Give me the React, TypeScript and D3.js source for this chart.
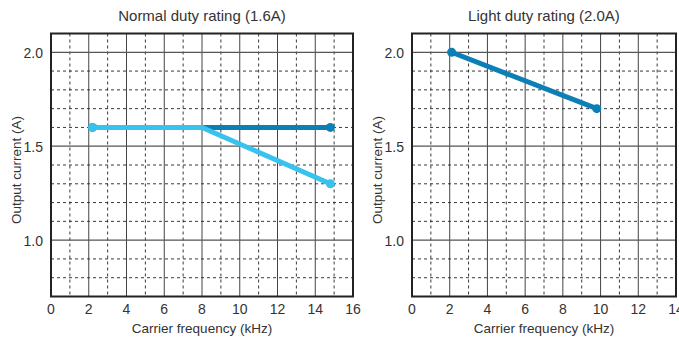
import React from "react";
import * as d3 from "d3";

const leftDarkX = [2.2, 14.8];
const leftDarkY = [1.6, 1.6];
const leftLightX = [2.2, 8, 14.8];
const leftLightY = [1.6, 1.6, 1.3];
const rightX = [2.1, 9.8];
const rightY = [2.0, 1.7];
const yTicks = [1.0, 1.5, 2.0];
const leftXTicks = [0, 2, 4, 6, 8, 10, 12, 14, 16];
const rightXTicks = [0, 2, 4, 6, 8, 10, 12, 14];

const DARK = "#0c7fb6";
const LIGHT = "#38c2ee";
const FONT = "Liberation Sans, Arial, sans-serif";
const TEXT = "#333";

type Series = { xs: number[]; ys: number[]; color: string };

function Panel({ x0, x1, xMax, xTicks, title, series }: { x0: number; x1: number; xMax: number; xTicks: number[]; title: string; series: Series[] }) {
  const top = 33.5, bottom = 296.5;
  const x = d3.scaleLinear().domain([0, xMax]).range([x0, x1]);
  const y = d3.scaleLinear().domain([0.7, 2.1]).range([bottom, top]);
  const vLines = d3.range(1, xMax + (xMax === 14 ? 1 : 0));
  const hLines = d3.range(8, 21).map((v) => v / 10);
  const line = d3.line<[number, number]>().x((d) => x(d[0])).y((d) => y(d[1]));
  return (
    <g>
      <text x={(x0 + x1) / 2} y={21} textAnchor="middle" fontSize={15} fill={TEXT} fontFamily={FONT}>{title}</text>
      {vLines.map((v) => (
        <line key={"v" + v} x1={x(v)} x2={x(v)} y1={top} y2={bottom} stroke={v % 2 === 0 ? "#444" : "#222"} strokeWidth={v % 2 === 0 ? 1 : 0.9} strokeDasharray={v % 2 === 0 ? undefined : "3,3"} />
      ))}
      {hLines.map((v) => {
        const major = Math.abs(v * 2 - Math.round(v * 2)) < 1e-6;
        return <line key={"h" + v} x1={x0} x2={x1} y1={y(v)} y2={y(v)} stroke={major ? "#555" : "#222"} strokeWidth={major ? 1.2 : 0.9} strokeDasharray={major ? undefined : "3,3"} />;
      })}
      <rect x={x0} y={top} width={x1 - x0} height={bottom - top} fill="none" stroke="#222" strokeWidth={2} />
      {series.map((s, i) => {
        const pts = s.xs.map((xv, j) => [xv, s.ys[j]] as [number, number]);
        return (
          <g key={i}>
            <path d={line(pts) || ""} fill="none" stroke={s.color} strokeWidth={5} />
            <circle cx={x(pts[0][0])} cy={y(pts[0][1])} r={4.5} fill={s.color} />
            <circle cx={x(pts[pts.length - 1][0])} cy={y(pts[pts.length - 1][1])} r={4.5} fill={s.color} />
          </g>
        );
      })}
      {xTicks.map((t) => (
        <text key={"xt" + t} x={x(t)} y={314} textAnchor="middle" fontSize={14} fill={TEXT} fontFamily={FONT}>{t}</text>
      ))}
      {yTicks.map((t) => (
        <text key={"yt" + t} x={x0 - 8} y={y(t) + 5.5} textAnchor="end" fontSize={14} fill={TEXT} fontFamily={FONT}>{t.toFixed(1)}</text>
      ))}
      <text x={(x0 + x1) / 2} y={333} textAnchor="middle" fontSize={13.5} fill={TEXT} fontFamily={FONT}>Carrier frequency (kHz)</text>
      <text transform={`translate(${x0 - 30},${170}) rotate(-90)`} textAnchor="middle" fontSize={13.5} fill={TEXT} fontFamily={FONT}>Output current (A)</text>
    </g>
  );
}

export default function App() {
  return (
    <svg width={679} height={339} style={{ position: "absolute", left: 0, top: 0, background: "#fff" }}>
      <rect width={679} height={339} fill="#fff" />
      <Panel x0={51} x1={353} xMax={16} xTicks={leftXTicks} title="Normal duty rating (1.6A)"
        series={[{ xs: leftDarkX, ys: leftDarkY, color: DARK }, { xs: leftLightX, ys: leftLightY, color: LIGHT }]} />
      <Panel x0={412} x1={676} xMax={14} xTicks={rightXTicks} title="Light duty rating (2.0A)"
        series={[{ xs: rightX, ys: rightY, color: DARK }]} />
    </svg>
  );
}
